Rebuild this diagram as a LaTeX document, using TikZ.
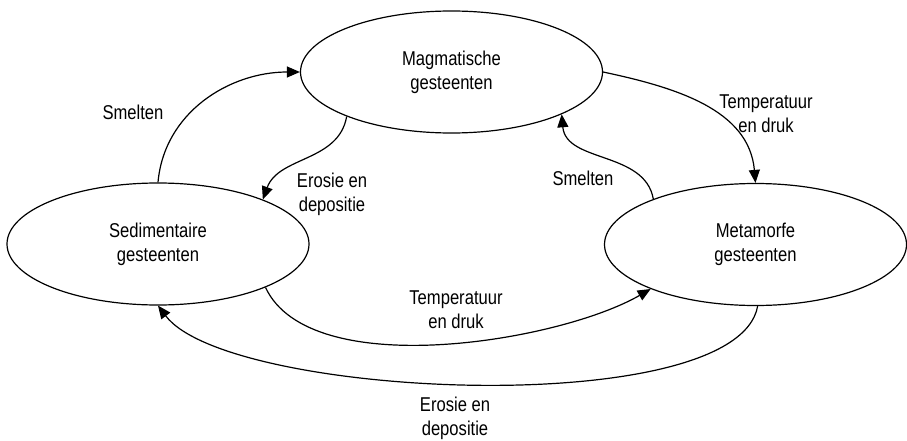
\documentclass[tikz,border=0pt]{standalone}
\usepackage{fontspec}
\setmainfont[FakeStretch=0.83]{Liberation Sans}
\usetikzlibrary{arrows.meta,shapes}
\tikzstyle{rock} = [ellipse, draw, minimum width=302pt, minimum height=122pt,
    align=center, inner sep=0pt]
\tikzstyle{lbl} = [align=center, inner sep=0pt]

\begin{document}
\begin{tikzpicture}[->,>={Triangle[length=13pt,width=11pt]},x=1pt,y=1pt,
                    line width=1.2pt,font=\fontsize{20}{24}\selectfont]
  \useasboundingbox (0,0) rectangle (907,440);

  \node[rock] (magma) at (451.5,368) {Magmatische\\gesteenten};
  \node[rock] (sed)   at (158,196)   {Sedimentaire\\gesteenten};
  \node[rock] (meta)  at (755.5,195.5) {Metamorfe\\gesteenten};

  \node[lbl] (smeltL) at (133,328) {Smelten};
  \node[lbl] (erosT)  at (332,246) {Erosie en\\depositie};
  \node[lbl] (tempR)  at (766,326) {Temperatuur\\en druk};
  \node[lbl] (smeltR) at (583,262) {Smelten};
  \node[lbl] (tempM)  at (456,130) {Temperatuur\\en druk};
  \node[lbl] (erosB)  at (455,22)  {Erosie en\\depositie};

  \path (sed.north) edge [out=85,in=180] (magma.west)
  (magma.203) edge [out=260,in=70] (sed.23)
  (magma.east) edge [out=-12,in=95] (meta.north)
  (meta.156) edge [out=100,in=-85] (magma.-21)
  (sed.-22) edge [out=-65,in=210,looseness=0.7] (meta.203)
  (meta.-88) edge [out=-100,in=-53,looseness=0.5] (sed.south);
\end{tikzpicture}
\end{document}
